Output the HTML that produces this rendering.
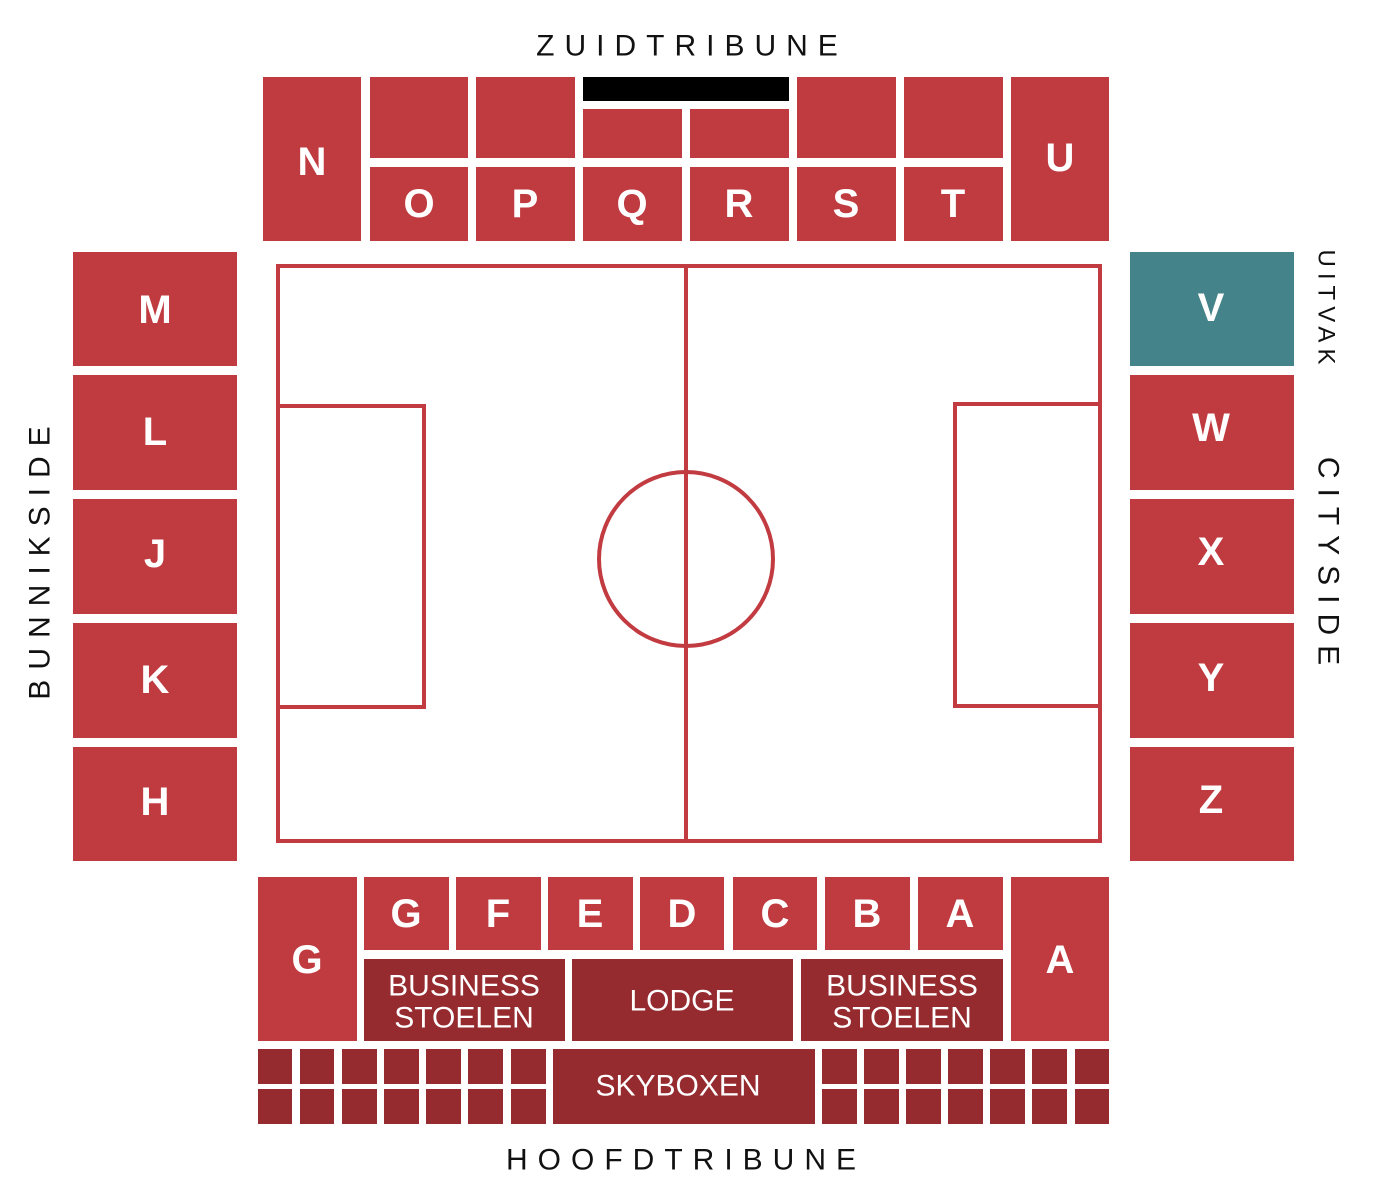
<!DOCTYPE html>
<html><head><style>
html,body{margin:0;padding:0;background:#fff;}
svg{display:block}
.r{fill:#c03b40}.d{fill:#952a2f}
.l{fill:#fff;font-family:"Liberation Sans",sans-serif;font-weight:bold;font-size:40px;text-anchor:middle;dominant-baseline:central}
.s{fill:#fff;font-family:"Liberation Sans",sans-serif;font-size:30px;text-anchor:middle;dominant-baseline:central}
.t{fill:#111;font-family:"Liberation Sans",sans-serif;font-size:30px;text-anchor:middle;dominant-baseline:central;letter-spacing:10px}
</style></head><body>
<svg width="1378" height="1200" viewBox="0 0 1378 1200" xmlns="http://www.w3.org/2000/svg">
<text class="t" x="692" y="46">ZUIDTRIBUNE</text>
<text class="t" x="686" y="1160">HOOFDTRIBUNE</text>
<text class="t" x="0" y="0" transform="translate(40,558) rotate(-90)">BUNNIKSIDE</text>
<text class="t" x="0" y="0" style="font-size:24px;letter-spacing:6px" transform="translate(1326,310) rotate(90)">UITVAK</text>
<text class="t" x="0" y="0" transform="translate(1328,566) rotate(90)">CITYSIDE</text>
<!-- top -->
<rect class="r" x="263" y="77" width="98" height="164"/><text class="l" x="312" y="162">N</text>
<rect class="r" x="370" y="77" width="98" height="81"/><rect class="r" x="370" y="167" width="98" height="74"/><text class="l" x="419" y="204">O</text>
<rect class="r" x="476" y="77" width="99" height="81"/><rect class="r" x="476" y="167" width="99" height="74"/><text class="l" x="525" y="204">P</text>
<rect fill="#000" x="583" y="77" width="206" height="24"/>
<rect class="r" x="583" y="109" width="99" height="49"/><rect class="r" x="583" y="167" width="99" height="74"/><text class="l" x="632" y="204">Q</text>
<rect class="r" x="690" y="109" width="99" height="49"/><rect class="r" x="690" y="167" width="99" height="74"/><text class="l" x="739" y="204">R</text>
<rect class="r" x="797" y="77" width="99" height="81"/><rect class="r" x="797" y="167" width="99" height="74"/><text class="l" x="846" y="204">S</text>
<rect class="r" x="904" y="77" width="99" height="81"/><rect class="r" x="904" y="167" width="99" height="74"/><text class="l" x="953" y="204">T</text>
<rect class="r" x="1011" y="77" width="98" height="164"/><text class="l" x="1060" y="158">U</text>
<!-- left -->
<rect class="r" x="73" y="252" width="164" height="114"/><text class="l" x="155" y="310">M</text>
<rect class="r" x="73" y="375" width="164" height="115"/><text class="l" x="155" y="432">L</text>
<rect class="r" x="73" y="499" width="164" height="115"/><text class="l" x="155" y="554">J</text>
<rect class="r" x="73" y="623" width="164" height="115"/><text class="l" x="155" y="680">K</text>
<rect class="r" x="73" y="747" width="164" height="114"/><text class="l" x="155" y="802">H</text>
<!-- right -->
<rect fill="#45838a" x="1130" y="252" width="164" height="114"/><text class="l" x="1211" y="308">V</text>
<rect class="r" x="1130" y="375" width="164" height="115"/><text class="l" x="1211" y="428">W</text>
<rect class="r" x="1130" y="499" width="164" height="115"/><text class="l" x="1211" y="552">X</text>
<rect class="r" x="1130" y="623" width="164" height="115"/><text class="l" x="1211" y="678">Y</text>
<rect class="r" x="1130" y="747" width="164" height="114"/><text class="l" x="1211" y="800">Z</text>
<!-- field -->
<g fill="none" stroke="#c13b41" stroke-width="4">
<rect x="278" y="266" width="822" height="575"/>
<line x1="686" y1="266" x2="686" y2="841"/>
<circle cx="686" cy="559" r="87"/>
<rect x="278" y="406" width="146" height="301"/>
<rect x="955" y="404" width="145" height="302"/>
</g>
<!-- bottom -->
<rect class="r" x="258" y="877" width="99" height="164"/><text class="l" x="307" y="960">G</text>
<rect class="r" x="364" y="877" width="85" height="73"/><text class="l" x="406" y="914">G</text>
<rect class="r" x="456" y="877" width="85" height="73"/><text class="l" x="498" y="914">F</text>
<rect class="r" x="548" y="877" width="85" height="73"/><text class="l" x="590" y="914">E</text>
<rect class="r" x="640" y="877" width="84" height="73"/><text class="l" x="682" y="914">D</text>
<rect class="r" x="733" y="877" width="84" height="73"/><text class="l" x="775" y="914">C</text>
<rect class="r" x="825" y="877" width="85" height="73"/><text class="l" x="867" y="914">B</text>
<rect class="r" x="918" y="877" width="85" height="73"/><text class="l" x="960" y="914">A</text>
<rect class="r" x="1011" y="877" width="98" height="164"/><text class="l" x="1060" y="960">A</text>
<rect class="d" x="364" y="959" width="201" height="82"/><text class="s" x="464" y="986">BUSINESS</text><text class="s" x="464" y="1018">STOELEN</text>
<rect class="d" x="572" y="959" width="221" height="82"/><text class="s" x="682" y="1001">LODGE</text>
<rect class="d" x="801" y="959" width="202" height="82"/><text class="s" x="902" y="986">BUSINESS</text><text class="s" x="902" y="1018">STOELEN</text>
<g class="d">
<rect x="258" y="1049" width="34" height="35"/><rect x="300" y="1049" width="34" height="35"/><rect x="342" y="1049" width="35" height="35"/><rect x="384" y="1049" width="35" height="35"/><rect x="426" y="1049" width="35" height="35"/><rect x="468" y="1049" width="35" height="35"/><rect x="511" y="1049" width="35" height="35"/>
<rect x="258" y="1089" width="34" height="35"/><rect x="300" y="1089" width="34" height="35"/><rect x="342" y="1089" width="35" height="35"/><rect x="384" y="1089" width="35" height="35"/><rect x="426" y="1089" width="35" height="35"/><rect x="468" y="1089" width="35" height="35"/><rect x="511" y="1089" width="35" height="35"/>
<rect x="822" y="1049" width="35" height="35"/><rect x="864" y="1049" width="35" height="35"/><rect x="906" y="1049" width="35" height="35"/><rect x="948" y="1049" width="35" height="35"/><rect x="990" y="1049" width="35" height="35"/><rect x="1032" y="1049" width="35" height="35"/><rect x="1075" y="1049" width="34" height="35"/>
<rect x="822" y="1089" width="35" height="35"/><rect x="864" y="1089" width="35" height="35"/><rect x="906" y="1089" width="35" height="35"/><rect x="948" y="1089" width="35" height="35"/><rect x="990" y="1089" width="35" height="35"/><rect x="1032" y="1089" width="35" height="35"/><rect x="1075" y="1089" width="34" height="35"/>
<rect x="553" y="1049" width="262" height="75"/>
</g>
<text class="s" x="678" y="1086">SKYBOXEN</text>
</svg>
</body></html>
